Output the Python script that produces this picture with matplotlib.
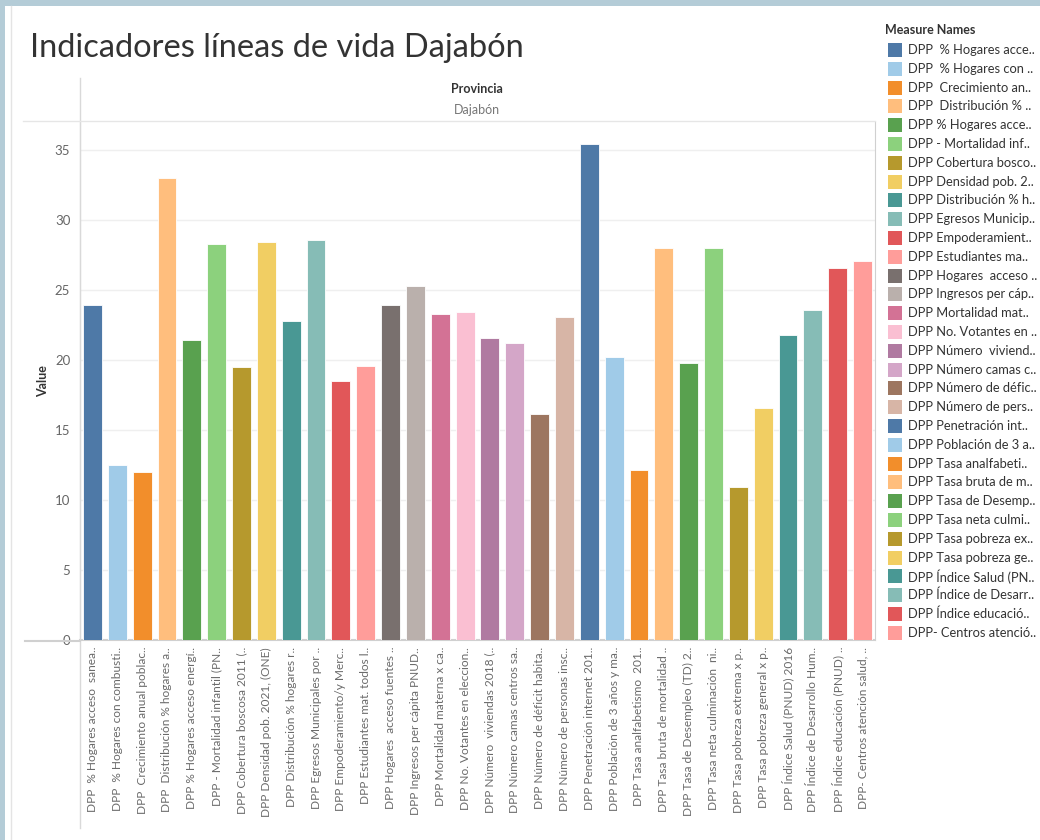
import matplotlib.pyplot as plt
from matplotlib.patches import Rectangle
from matplotlib.lines import Line2D

# data (Provincia = Dajabón)
xlabels = [
    "DPP  % Hogares acceso  sanea..", "DPP  % Hogares con combusti..",
    "DPP  Crecimiento anual poblac..", "DPP  Distribución % hogares a..",
    "DPP % Hogares acceso energí..", "DPP - Mortalidad infantil (PN..",
    "DPP Cobertura boscosa 2011 (..", "DPP Densidad pob. 2021, (ONE)",
    "DPP Distribución % hogares r..", "DPP Egresos Municipales por ..",
    "DPP Empoderamiento/y Merc..", "DPP Estudiantes mat. todos l..",
    "DPP Hogares  acceso fuentes ..", "DPP Ingresos per cápita PNUD..",
    "DPP Mortalidad materna x ca..", "DPP No. Votantes en eleccion..",
    "DPP Número  viviendas 2018 (..", "DPP Número camas centros sa..",
    "DPP Número de déficit habita..", "DPP Número de personas insc..",
    "DPP Penetración internet 201..", "DPP Población de 3 años y ma..",
    "DPP Tasa analfabetismo  201..", "DPP Tasa bruta de mortalidad ..",
    "DPP Tasa de Desempleo (TD) 2..", "DPP Tasa neta culminación  ni..",
    "DPP Tasa pobreza extrema x p..", "DPP Tasa pobreza general x p..",
    "DPP Índice Salud (PNUD) 2016", "DPP Índice de Desarrollo Hum..",
    "DPP Índice educación (PNUD) ..", "DPP- Centros atención salud, ..",
]
legend_labels = [
    "DPP  % Hogares acce..", "DPP  % Hogares con ..", "DPP  Crecimiento an..",
    "DPP  Distribución % ..", "DPP % Hogares acce..", "DPP - Mortalidad inf..",
    "DPP Cobertura bosco..", "DPP Densidad pob. 2..", "DPP Distribución % h..",
    "DPP Egresos Municip..", "DPP Empoderamient..", "DPP Estudiantes ma..",
    "DPP Hogares  acceso ..", "DPP Ingresos per cáp..", "DPP Mortalidad mat..",
    "DPP No. Votantes en ..", "DPP Número  viviend..", "DPP Número camas c..",
    "DPP Número de défic..", "DPP Número de pers..", "DPP Penetración int..",
    "DPP Población de 3 a..", "DPP Tasa analfabeti..", "DPP Tasa bruta de m..",
    "DPP Tasa de Desemp..", "DPP Tasa neta culmi..", "DPP Tasa pobreza ex..",
    "DPP Tasa pobreza ge..", "DPP Índice Salud (PN..", "DPP Índice de Desarr..",
    "DPP Índice educació..", "DPP- Centros atenció..",
]
values = [23.9, 12.5, 12.0, 33.0, 21.4, 28.3, 19.5, 28.45, 22.8, 28.6,
          18.5, 19.6, 23.9, 25.25, 23.3, 23.4, 21.6, 21.2, 16.15, 23.1,
          35.4, 20.2, 12.15, 28.0, 19.8, 28.0, 10.95, 16.6, 21.75, 23.6,
          26.6, 27.05]

tab20 = ["#4e79a7", "#a0cbe8", "#f28e2b", "#ffbe7d", "#59a14f", "#8cd17d",
         "#b6992d", "#f1ce63", "#499894", "#86bcb6", "#e15759", "#ff9d9a",
         "#79706e", "#bab0ac", "#d37295", "#fabfd2", "#b07aa1", "#d4a6c8",
         "#9d7660", "#d7b5a6"]
colors = [tab20[i % 20] for i in range(len(values))]

plt.rcParams['font.family'] = ['Lato', 'DejaVu Sans']

W, H = 1040, 840
fig = plt.figure(figsize=(W / 100, H / 100), dpi=100)

def fx(px):
    return px / W

def fy(py):
    return 1 - py / H

# dashboard frame bits on the left/top edge
fig.patches.append(Rectangle((0, 0), fx(5), 1, transform=fig.transFigure,
                             facecolor="#b4ccd7", edgecolor="none"))
fig.patches.append(Rectangle((0, fy(6)), 1, 6 / H, transform=fig.transFigure,
                             facecolor="#b4ccd7", edgecolor="none"))
fig.lines.append(Line2D([fx(11), fx(11)], [0, fy(6)], transform=fig.transFigure,
                        color="#e4e4e4", lw=1))

ax = fig.add_axes([fx(80), fy(640), fx(875 - 80), (640 - 122) / H])
x = list(range(len(values)))
ax.bar(x, values, width=0.76, color=colors, edgecolor="white", linewidth=0.6, zorder=3)
ax.set_xlim(-0.5, 31.5)
ax.set_ylim(0, 37)
ax.set_yticks([0, 5, 10, 15, 20, 25, 30, 35])
ax.grid(axis="y", color="#efefef", lw=1, zorder=0)
ax.tick_params(axis="y", length=0, labelsize=9.5, labelcolor="#666666", pad=7)
ax.set_xticks(x)
ax.set_xticklabels(xlabels, rotation=90, fontsize=8.6, color="#6a6a6a", va="top")
ax.tick_params(axis="x", length=0, pad=5)
ax.spines["top"].set_visible(False)
ax.spines["left"].set_color("#d9d9d9")
ax.spines["right"].set_color("#d0d0d0")
ax.spines["bottom"].set_color("#d0d0d0")
ax.spines["bottom"].set_linewidth(1.5)
ax.set_ylabel("Value", fontsize=9, fontweight="bold", color="#333333", labelpad=4)

# header / frame lines
fig.lines.append(Line2D([fx(80), fx(80)], [fy(828), fy(78)], transform=fig.transFigure,
                        color="#d9d9d9", lw=1))
fig.lines.append(Line2D([fx(23), fx(875)], [fy(121), fy(121)], transform=fig.transFigure,
                        color="#e6e6e6", lw=1))
fig.lines.append(Line2D([fx(25), fx(80)], [fy(641), fy(641)], transform=fig.transFigure,
                        color="#d0d0d0", lw=1.5))
fig.text(fx(477), fy(89), "Provincia", ha="center", va="center", fontsize=9,
         fontweight="bold", color="#333333")
fig.text(fx(477), fy(110), "Dajabón", ha="center", va="center", fontsize=9,
         color="#777777")

fig.text(fx(30), fy(48), "Indicadores líneas de vida Dajabón", ha="left", va="center",
         fontsize=23.5, color="#333333")

# legend
fig.text(fx(885), fy(30), "Measure Names", ha="left", va="center", fontsize=9,
         fontweight="bold", color="#333333")
for i, (lab, c) in enumerate(zip(legend_labels, colors)):
    yc = 50 + i * 18.8
    fig.patches.append(Rectangle((fx(888), fy(yc + 7)), fx(14), 14 / H,
                                 transform=fig.transFigure, facecolor=c,
                                 edgecolor="none"))
    fig.text(fx(908), fy(yc), lab, ha="left", va="center", fontsize=9.3,
             color="#333333")

fig.savefig("out.png", dpi=100)
